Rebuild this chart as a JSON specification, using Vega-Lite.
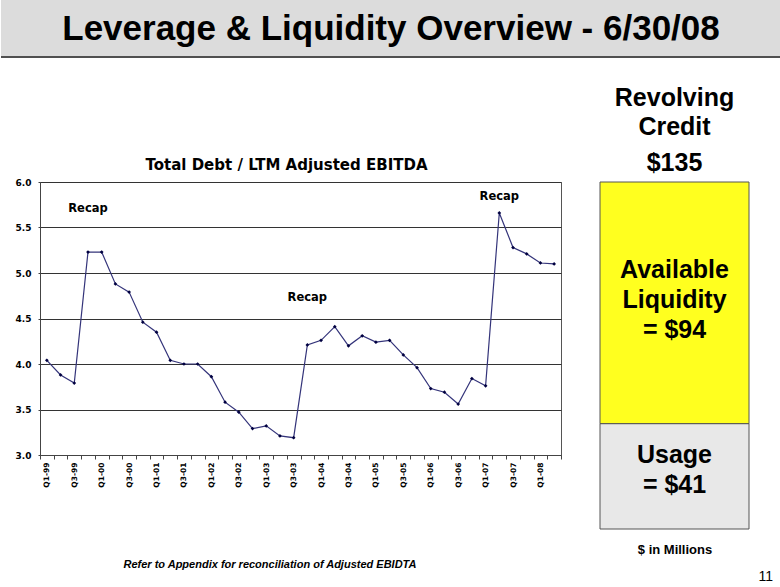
{
  "$schema": "https://vega.github.io/schema/vega-lite/v6.json",
  "padding": 0,
  "background": "white",
  "datasets": {
    "banner": [{"t": "Leverage & Liquidity Overview - 6/30/08", "base": 0}],
    "ratio": [
      {"q": "Q1-99", "v": 4.04}, {"q": "Q2-99", "v": 3.88}, {"q": "Q3-99", "v": 3.79}, {"q": "Q4-99", "v": 5.23},
      {"q": "Q1-00", "v": 5.23}, {"q": "Q2-00", "v": 4.88}, {"q": "Q3-00", "v": 4.79}, {"q": "Q4-00", "v": 4.46},
      {"q": "Q1-01", "v": 4.35}, {"q": "Q2-01", "v": 4.04}, {"q": "Q3-01", "v": 4.00}, {"q": "Q4-01", "v": 4.00},
      {"q": "Q1-02", "v": 3.86}, {"q": "Q2-02", "v": 3.58}, {"q": "Q3-02", "v": 3.47}, {"q": "Q4-02", "v": 3.29},
      {"q": "Q1-03", "v": 3.32}, {"q": "Q2-03", "v": 3.21}, {"q": "Q3-03", "v": 3.19}, {"q": "Q4-03", "v": 4.21},
      {"q": "Q1-04", "v": 4.26}, {"q": "Q2-04", "v": 4.41}, {"q": "Q3-04", "v": 4.20}, {"q": "Q4-04", "v": 4.31},
      {"q": "Q1-05", "v": 4.24}, {"q": "Q2-05", "v": 4.26}, {"q": "Q3-05", "v": 4.10}, {"q": "Q4-05", "v": 3.96},
      {"q": "Q1-06", "v": 3.73}, {"q": "Q2-06", "v": 3.69}, {"q": "Q3-06", "v": 3.56}, {"q": "Q4-06", "v": 3.84},
      {"q": "Q1-07", "v": 3.76}, {"q": "Q2-07", "v": 5.66}, {"q": "Q3-07", "v": 5.28}, {"q": "Q4-07", "v": 5.21},
      {"q": "Q1-08", "v": 5.11}, {"q": "Q2-08", "v": 5.10}
    ],
    "notes": [
      {"q": "Q4-99", "v": 5.70, "label": "Recap"},
      {"q": "Q4-03", "v": 4.73, "label": "Recap"},
      {"q": "Q2-07", "v": 5.83, "label": "Recap"}
    ],
    "credit": [
      {"col": "Revolving Credit", "seg": "Usage", "amount": 41, "ord": 1, "label": "Usage\n= $41"},
      {"col": "Revolving Credit", "seg": "Available", "amount": 94, "ord": 2, "label": "Available\nLiquidity\n= $94"}
    ],
    "empty": []
  },
  "title": {"text": "11", "orient": "bottom", "anchor": "end", "font": "Liberation Sans", "fontSize": 14, "fontWeight": "normal", "color": "#000", "dx": -9, "offset": 0},
  "spacing": 27,
  "vconcat": [
    {
      "data": {"name": "banner"},
      "width": 780,
      "height": 57,
      "view": {"fill": "#dcdcdc", "stroke": null},
      "layer": [
        {
          "mark": {"type": "rule", "color": "#505050", "strokeWidth": 2},
          "encoding": {"y": {"field": "base", "type": "quantitative", "scale": {"domain": [0, 1]}, "axis": null}}
        },
        {
          "mark": {"type": "text", "font": "Liberation Sans", "fontSize": 35, "fontWeight": "bold", "color": "#000", "baseline": "middle"},
          "encoding": {"text": {"field": "t"}}
        }
      ]
    },
    {
      "spacing": 0,
      "hconcat": [
        {
          "data": {"name": "empty"},
          "width": 1,
          "height": 273,
          "view": {"stroke": null},
          "mark": {"type": "point", "opacity": 0}
        },
        {
          "width": 521,
          "height": 273,
          "view": {"stroke": "#555", "strokeWidth": 1},
          "title": {"text": "Total Debt / LTM Adjusted EBITDA", "font": "DejaVu Sans", "fontSize": 15, "fontWeight": "bold", "color": "#000", "anchor": "middle", "dx": -14, "offset": 5},
          "encoding": {
            "x": {
              "field": "q", "type": "nominal",
              "scale": {"type": "band", "paddingInner": 0, "paddingOuter": 0, "domain": ["Q1-99","Q2-99","Q3-99","Q4-99","Q1-00","Q2-00","Q3-00","Q4-00","Q1-01","Q2-01","Q3-01","Q4-01","Q1-02","Q2-02","Q3-02","Q4-02","Q1-03","Q2-03","Q3-03","Q4-03","Q1-04","Q2-04","Q3-04","Q4-04","Q1-05","Q2-05","Q3-05","Q4-05","Q1-06","Q2-06","Q3-06","Q4-06","Q1-07","Q2-07","Q3-07","Q4-07","Q1-08","Q2-08"]},
              "axis": {
                "title": "Refer to Appendix for reconciliation of Adjusted EBIDTA",
                "titleFont": "Liberation Sans", "titleFontSize": 11, "titleFontStyle": "italic", "titleFontWeight": "bold", "titleColor": "#000",
                "titleAnchor": "start", "titleAlign": "left", "titleX": 83, "titleY": 109, "titleBaseline": "middle",
                "labelAngle": -90, "labelFont": "DejaVu Sans", "labelFontSize": 7.5, "labelFontWeight": "bold", "labelColor": "#000",
                "labelPadding": 3, "labelOverlap": false,
                "labelExpr": "substring(datum.label,1,2) == '1' || substring(datum.label,1,2) == '3' ? datum.label : ''",
                "tickBand": "extent", "tickSize": 4, "tickColor": "#444", "domainColor": "#444", "grid": false
              }
            },
            "y": {
              "field": "v", "type": "quantitative",
              "scale": {"domain": [3, 6], "nice": false, "zero": false},
              "axis": {
                "title": null, "values": [3, 3.5, 4, 4.5, 5, 5.5, 6], "format": ".1f",
                "labelFont": "DejaVu Sans", "labelFontSize": 9, "labelFontWeight": "bold", "labelColor": "#000",
                "grid": true, "gridColor": "#333", "gridWidth": 1, "domainColor": "#444",
                "tickSize": 2, "tickColor": "#444", "labelPadding": 7, "minExtent": 37
              }
            }
          },
          "layer": [
            {"data": {"name": "ratio"}, "mark": {"type": "line", "color": "#34347a", "strokeWidth": 1.2}},
            {"data": {"name": "ratio"}, "mark": {"type": "point", "shape": "diamond", "filled": true, "size": 14, "color": "#000040", "opacity": 1}},
            {
              "data": {"name": "notes"},
              "mark": {"type": "text", "font": "DejaVu Sans", "fontSize": 11.5, "fontWeight": "bold", "color": "#000", "baseline": "middle"},
              "encoding": {"text": {"field": "label"}}
            }
          ]
        },
        {
          "data": {"name": "credit"},
          "width": 149,
          "height": 347,
          "view": {"stroke": null},
          "title": {
            "text": ["Revolving", "Credit"], "subtitle": "$135",
            "font": "Liberation Sans", "fontSize": 25, "fontWeight": "bold", "color": "#000", "lineHeight": 29,
            "subtitleFont": "Liberation Sans", "subtitleFontSize": 25, "subtitleFontWeight": "bold", "subtitleColor": "#000",
            "subtitleLineHeight": 29, "subtitlePadding": 11, "offset": 6, "anchor": "middle"
          },
          "transform": [
            {"stack": "amount", "groupby": [], "sort": [{"field": "ord", "order": "ascending"}], "as": ["y0", "y1"]},
            {"calculate": "(datum.y0 + datum.y1) / 2", "as": "mid"}
          ],
          "encoding": {
            "x": {
              "field": "col", "type": "nominal",
              "scale": {"paddingInner": 0, "paddingOuter": 0},
              "axis": {"labels": false, "ticks": false, "domain": false, "title": "$ in Millions", "titleFont": "Liberation Sans", "titleFontSize": 13, "titleFontWeight": "bold", "titleColor": "#000", "titlePadding": 14}
            },
            "y": {"field": "y0", "type": "quantitative", "scale": {"domain": [0, 135], "nice": false}, "axis": {"labels": false, "ticks": false, "domain": false, "grid": false, "title": null, "minExtent": 38}}
          },
          "layer": [
            {
              "mark": {"type": "bar", "stroke": "#555", "strokeWidth": 1},
              "encoding": {
                "y2": {"field": "y1"},
                "color": {"field": "seg", "type": "nominal", "scale": {"domain": ["Available", "Usage"], "range": ["#ffff1f", "#e8e8e8"]}, "legend": null}
              }
            },
            {
              "transform": [{"filter": "datum.seg == 'Available'"}],
              "mark": {"type": "text", "font": "Liberation Sans", "fontSize": 25, "fontWeight": "bold", "color": "#000", "lineBreak": "\n", "lineHeight": 30, "baseline": "middle", "dy": -33},
              "encoding": {
                "y": {"field": "mid", "type": "quantitative"},
                "text": {"field": "label"}
              }
            },
            {
              "transform": [{"filter": "datum.seg == 'Usage'"}],
              "mark": {"type": "text", "font": "Liberation Sans", "fontSize": 25, "fontWeight": "bold", "color": "#000", "lineBreak": "\n", "lineHeight": 30, "baseline": "middle", "dy": -21},
              "encoding": {
                "y": {"field": "mid", "type": "quantitative"},
                "text": {"field": "label"}
              }
            }
          ]
        }
      ]
    }
  ]
}
